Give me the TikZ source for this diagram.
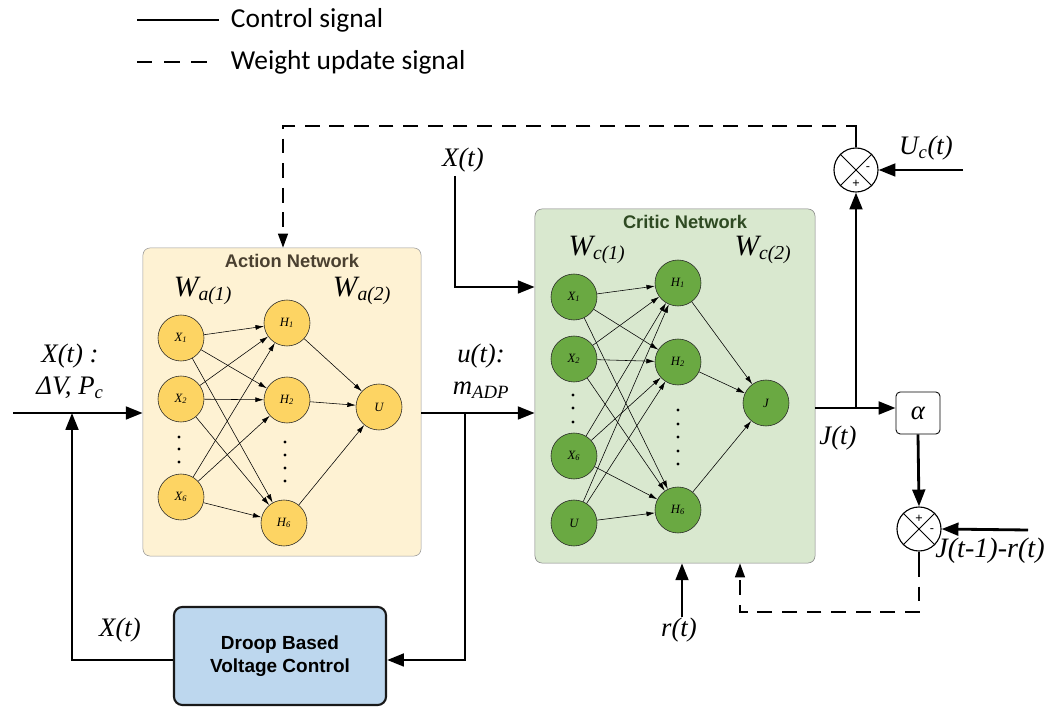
\documentclass[tikz,border=0pt]{standalone}
\usepackage{fontspec}
\setmainfont{Liberation Serif}
\newfontfamily\legendfont{Carlito}
\newfontfamily\boxfont{Liberation Sans}
\usetikzlibrary{arrows.meta}
\definecolor{actbg}{HTML}{FEF2D3}
\definecolor{actnode}{HTML}{FDD463}
\definecolor{actttl}{HTML}{4A4030}
\definecolor{critbg}{HTML}{D9E8CF}
\definecolor{critnode}{HTML}{6AA942}
\definecolor{critttl}{HTML}{2E4A22}
\definecolor{droopbg}{HTML}{BDD7EE}
\newcommand{\wsub}[1]{\textsubscript{\fontsize{14}{14}\selectfont #1}}
\begin{document}
\begin{tikzpicture}[x=0.025cm,y=-0.025cm,
  neuronA/.style={circle,draw=black!85,fill=actnode,minimum size=1.15cm,inner sep=0pt,font=\fontsize{9}{9}\selectfont\itshape},
  neuronC/.style={circle,draw=black!85,fill=critnode,minimum size=1.15cm,inner sep=0pt,font=\fontsize{9}{9}\selectfont\itshape},
  wire/.style={-{Latex[length=6pt,width=3.5pt]},line width=0.4pt},
  sig/.style={line width=2pt,-{Triangle[length=12pt,width=9pt]}},
  upd/.style={line width=1.3pt,dash pattern=on 10.5pt off 7pt,-{Triangle[length=10pt,width=7pt]}},
  sumjn/.style={circle,draw,line width=0.8pt,minimum size=1.1cm,inner sep=0pt},
  lbl/.style={font=\fontsize{19}{23}\selectfont\itshape,inner sep=1pt},
  wlbl/.style={font=\fontsize{21}{21}\selectfont\itshape,inner sep=0pt},
  sgn/.style={font=\boxfont\fontsize{9}{9}\selectfont,inner sep=0pt}]
  \useasboundingbox (0,0) rectangle (1054,707);
%
% legend
  \coordinate (lgA) at (137,20); \coordinate (lgB) at (219,20);
  \coordinate (lgC) at (137,62); \coordinate (lgD) at (207,62);
  \draw [line width=1.3pt] (lgA) -- (lgB);
  \draw [line width=1.3pt, dash pattern=on 11pt off 8.3pt] (lgC) -- (lgD);
  \node [anchor=west, font=\legendfont\fontsize{19.5}{19.5}\selectfont] (lgctl) at (226,20) {Control signal};
  \node [anchor=west, font=\legendfont\fontsize{19.5}{19.5}\selectfont] (lgupd) at (226,62) {Weight update signal};
%
% boxes
  \node [draw=black!40, fill=actbg, rounded corners=5pt, minimum width=6.95cm, minimum height=7.7cm] (act) at (282,402) {};
  \node [draw=black!50, fill=critbg, rounded corners=5pt, minimum width=7cm, minimum height=8.85cm] (crit) at (675,386) {};
  \node [draw=black!90, line width=1.5pt, fill=droopbg, rounded corners=6pt, minimum width=5.3cm, minimum height=2.45cm, align=center, font=\boxfont\bfseries\fontsize{13.5}{16.5}\selectfont] (droop) at (280,656) {Droop Based\\Voltage Control};
  \node [font=\boxfont\bfseries\fontsize{13}{13}\selectfont, text=actttl, inner sep=1pt] (actttl) at (292,261) {Action Network};
  \node [font=\boxfont\bfseries\fontsize{13}{13}\selectfont, text=critttl, inner sep=1pt] (critttl) at (685,222) {Critic Network};
  \node [wlbl] (wa1) at (203,291) {W\wsub{a(1)}};
  \node [wlbl] (wa2) at (362,291) {W\wsub{a(2)}};
  \node [wlbl] (wc1) at (597,250) {W\wsub{c(1)}};
  \node [wlbl] (wc2) at (763,250) {W\wsub{c(2)}};
%
% action network
  \node [neuronA] (aX1) at (181,338) {X\textsubscript{1}};
  \node [neuronA] (aX2) at (181,399) {X\textsubscript{2}};
  \node [neuronA] (aX6) at (181,497) {X\textsubscript{6}};
  \node [neuronA] (aH1) at (287,323) {H\textsubscript{1}};
  \node [neuronA] (aH2) at (287,400) {H\textsubscript{2}};
  \node [neuronA] (aH6) at (284,523) {H\textsubscript{6}};
  \node [neuronA] (aU) at (379,407) {U};
  \fill (179,437) circle (1.6); \fill (179,449) circle (1.6); \fill (179,462) circle (1.6);
  \fill (285,442) circle (1.6); \fill (285,455) circle (1.6); \fill (285,468) circle (1.6); \fill (285,481) circle (1.6);
%
  \draw [wire] (aX1) -- (aH1); \draw [wire] (aX1) -- (aH2); \draw [wire] (aX1) -- (aH6);
  \draw [wire] (aX2) -- (aH1); \draw [wire] (aX2) -- (aH2); \draw [wire] (aX2) -- (aH6);
  \draw [wire] (aX6) -- (aH1); \draw [wire] (aX6) -- (aH2); \draw [wire] (aX6) -- (aH6);
  \draw [wire] (aH1) -- (aU); \draw [wire] (aH2) -- (aU); \draw [wire] (aH6) -- (aU);
%
% critic network
  \node [neuronC] (cX1) at (574,297) {X\textsubscript{1}};
  \node [neuronC] (cX2) at (574,359) {X\textsubscript{2}};
  \node [neuronC] (cX6) at (574,456) {X\textsubscript{6}};
  \node [neuronC] (cU) at (574,523) {U};
  \node [neuronC] (cH1) at (678,283) {H\textsubscript{1}};
  \node [neuronC] (cH2) at (678,362) {H\textsubscript{2}};
  \node [neuronC] (cH6) at (678,510) {H\textsubscript{6}};
  \node [neuronC] (cJ) at (766,403) {J};
  \fill (573,395) circle (1.6); \fill (573,408) circle (1.6); \fill (573,422) circle (1.6);
  \fill (678,410) circle (1.6); \fill (678,424) circle (1.6); \fill (678,437) circle (1.6); \fill (678,451) circle (1.6); \fill (678,464) circle (1.6);
%
  \draw [wire] (cX1) -- (cH1); \draw [wire] (cX1) -- (cH2); \draw [wire] (cX1) -- (cH6);
  \draw [wire] (cX2) -- (cH1); \draw [wire] (cX2) -- (cH2); \draw [wire] (cX2) -- (cH6);
  \draw [wire] (cX6) -- (cH1); \draw [wire] (cX6) -- (cH2); \draw [wire] (cX6) -- (cH6);
  \draw [wire] (cU) -- (cH1); \draw [wire] (cU) -- (cH2); \draw [wire] (cU) -- (cH6);
  \draw [wire] (cH1) -- (cJ); \draw [wire] (cH2) -- (cJ); \draw [wire] (cH6) -- (cJ);
%
% junctions and gain
  \node [sumjn] (s1) at (856,170) {};
  \draw [line width=0.6pt] (s1.45) -- (s1.225); \draw [line width=0.6pt] (s1.135) -- (s1.315);
  \node [sgn] (s1m) at (868,169) {-}; \node [sgn] (s1p) at (856,184) {+};
  \node [sumjn] (s2) at (919,529) {};
  \draw [line width=0.6pt] (s2.45) -- (s2.225); \draw [line width=0.6pt] (s2.135) -- (s2.315);
  \node [sgn] (s2p) at (919,519) {+}; \node [sgn] (s2m) at (932,531) {-};
  \node [draw, rounded corners=3pt, line width=0.6pt, minimum width=1.1cm, minimum height=1.05cm, font=\fontsize{19}{19}\selectfont\itshape] (alpha) at (918,413) {α};
%
% control signals
  \coordinate (xin) at (13,413); \coordinate (fb) at (72,660);
  \coordinate (ubr) at (465,413);
  \coordinate (xtop) at (455,176); \coordinate (xcor) at (455,287);
  \coordinate (jout) at (815,408); \coordinate (jbr) at (856,408);
  \coordinate (ucin) at (963,170); \coordinate (jrin) at (1028,530);
  \coordinate (rin) at (682,617);
  \draw [sig] (xin) -- (act.west |- xin);
  \draw [sig] (droop.west |- fb) -- (fb) -- (fb |- xin);
  \draw [sig] (act.east |- xin) -- (crit.west |- xin);
  \draw [sig] (ubr) -- (ubr |- fb) -- (droop.east |- fb);
  \draw [sig] (xtop) -- (xcor) -- (crit.west |- xcor);
  \draw [sig] (jout) -- (alpha.west |- jout);
  \draw [sig] (jbr) -- (s1.south);
  \draw [sig] (ucin) -- (s1.east);
  \draw [sig] (alpha.south) -- (s2.north);
  \draw [sig] (jrin) -- (s2.east);
  \draw [sig] (rin) -- (crit.south -| rin);
%
% weight update signals
  \coordinate (upA) at (856,131); \coordinate (upB) at (856,126); \coordinate (upC) at (283,126);
  \coordinate (upD) at (919,562); \coordinate (upE) at (919,612); \coordinate (upF) at (740,612);
  \draw [line width=1.3pt] (s1.north) -- (upA);
  \draw [upd] (upA) -- (upB) -- (upC) -- (act.north -| upC);
  \draw [line width=1.3pt] (s2.south) -- (upD);
  \draw [upd] (upD) -- (upE) -- (upF) -- (crit.south -| upF);
%
% labels
  \node [lbl, align=center] (xlbl) at (70,371) {X(t) :\\ΔV, P\textsubscript{c}};
  \node [lbl, align=center] (ulbl) at (481,371) {u(t):\\m\textsubscript{ADP}};
  \node [lbl] (xtlbl) at (463,160) {X(t)};
  \node [lbl] (xfblbl) at (120,630) {X(t)};
  \node [lbl] (jlbl) at (838,438) {J(t)};
  \node [lbl] (uclbl) at (926,148) {U\textsubscript{c}(t)};
  \node [lbl] (rlbl) at (679,630) {r(t)};
  \node [lbl, font=\fontsize{20}{20}\selectfont\itshape] (jrlbl) at (990,551) {J(t-1)-r(t)};
\end{tikzpicture}
\end{document}
